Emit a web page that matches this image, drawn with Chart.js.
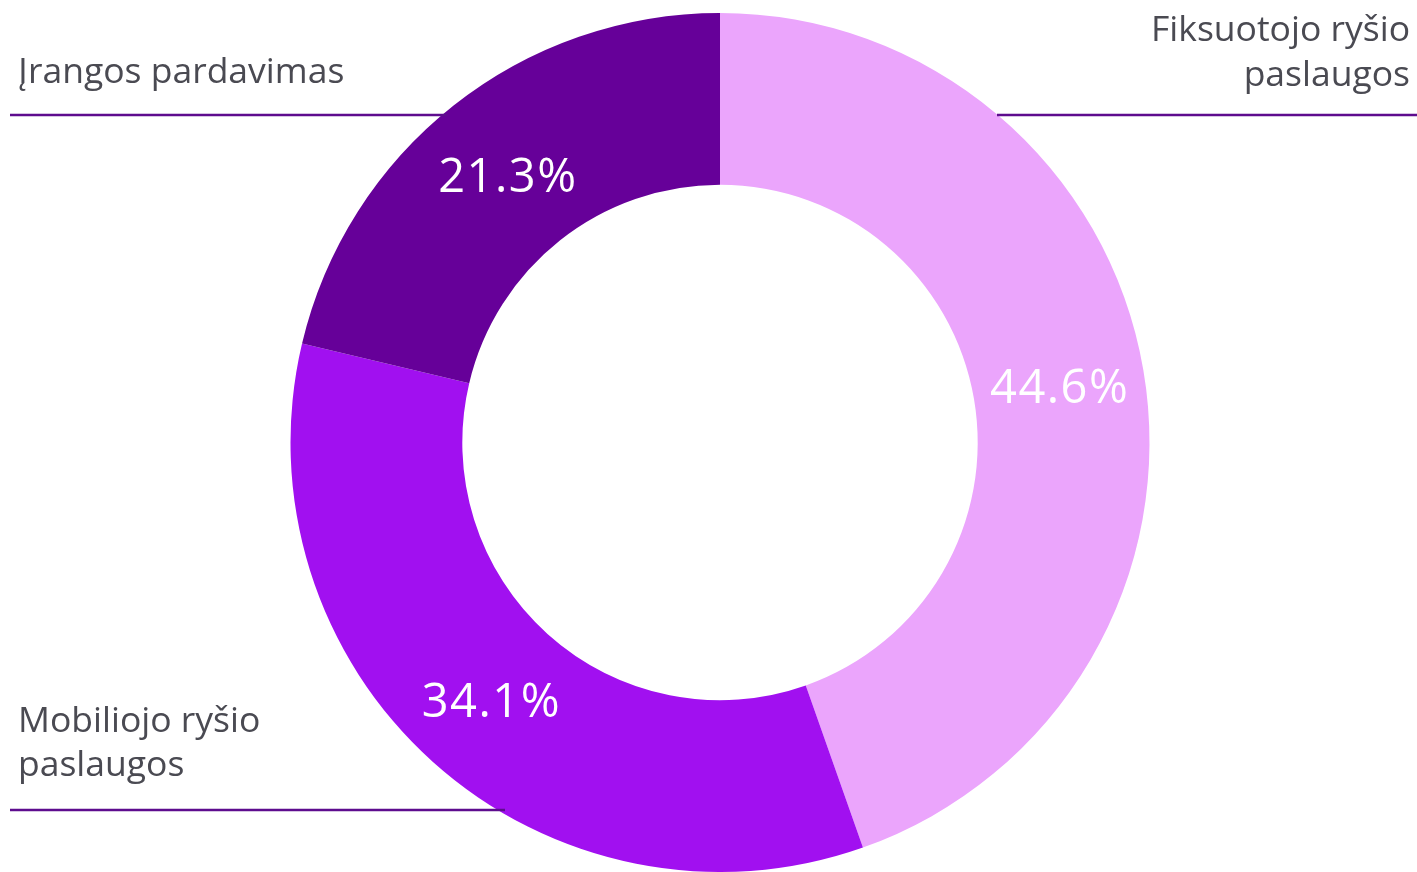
<!DOCTYPE html>
<html>
<head>
<meta charset="utf-8">
<script src="https://cdn.jsdelivr.net/npm/chart.js@4"></script>
<style>
html,body{margin:0;padding:0;background:#fff;overflow:hidden;}
#wrap{width:1417px;height:872px;position:relative;}
</style>
</head>
<body>
<div id="wrap"><canvas id="c" width="1417" height="872"></canvas></div>
<script>
const categories = ["Fiksuotojo ryšio paslaugos", "Mobiliojo ryšio paslaugos", "Įrangos pardavimas"];
const values = [44.6, 34.1, 21.3];
const colors = ["#EBA5FC", "#A110F0", "#660099"];
const labelLines = [
  ["Fiksuotojo ryšio", "paslaugos"],
  ["Mobiliojo ryšio", "paslaugos"],
  ["Įrangos pardavimas"]
];

const TEXT_COLOR = "#4A4A52";
const LINE_COLOR = "#5E0C8E";
const FONT = "'Open Sans', Lato, sans-serif";

const annotations = {
  id: "annotations",
  afterDatasetsDraw(chart) {
    const ctx = chart.ctx;
    const meta = chart.getDatasetMeta(0);
    // value labels
    ctx.save();
    ctx.fillStyle = "#ffffff";
    ctx.font = "400 47px " + FONT;
    ctx.letterSpacing = "1.5px";
    ctx.textAlign = "center";
    ctx.textBaseline = "alphabetic";
    meta.data.forEach((arc, i) => {
      const p = arc.tooltipPosition();
      ctx.fillText(values[i].toFixed(1) + "%", p.x + 1, p.y + 19);
    });
    ctx.restore();

    // category labels and leader lines
    ctx.save();
    ctx.fillStyle = TEXT_COLOR;
    ctx.font = "400 35.5px " + FONT;
    ctx.textBaseline = "alphabetic";
    ctx.textAlign = "right";
    ctx.fillText(labelLines[0][0], 1410, 41);
    ctx.fillText(labelLines[0][1], 1410, 86);
    ctx.textAlign = "left";
    ctx.fillText(labelLines[2][0], 18, 83);
    ctx.fillText(labelLines[1][0], 18, 732);
    ctx.fillText(labelLines[1][1], 18, 776);

    ctx.strokeStyle = LINE_COLOR;
    ctx.lineWidth = 2.5;
    ctx.beginPath();
    ctx.moveTo(10, 115); ctx.lineTo(447, 115);
    ctx.moveTo(997, 115); ctx.lineTo(1417, 115);
    ctx.moveTo(10, 810); ctx.lineTo(505, 810);
    ctx.stroke();
    ctx.restore();
  }
};

new Chart(document.getElementById("c"), {
  type: "doughnut",
  data: {
    labels: categories,
    datasets: [{
      data: values,
      backgroundColor: colors,
      borderWidth: 0,
      hoverOffset: 0
    }]
  },
  options: {
    responsive: false,
    animation: false,
    cutout: "60%",
    layout: { padding: { top: 13, bottom: 0, left: 23, right: 0 } },
    plugins: {
      legend: { display: false },
      tooltip: { enabled: false }
    }
  },
  plugins: [annotations]
});
</script>
</body>
</html>
